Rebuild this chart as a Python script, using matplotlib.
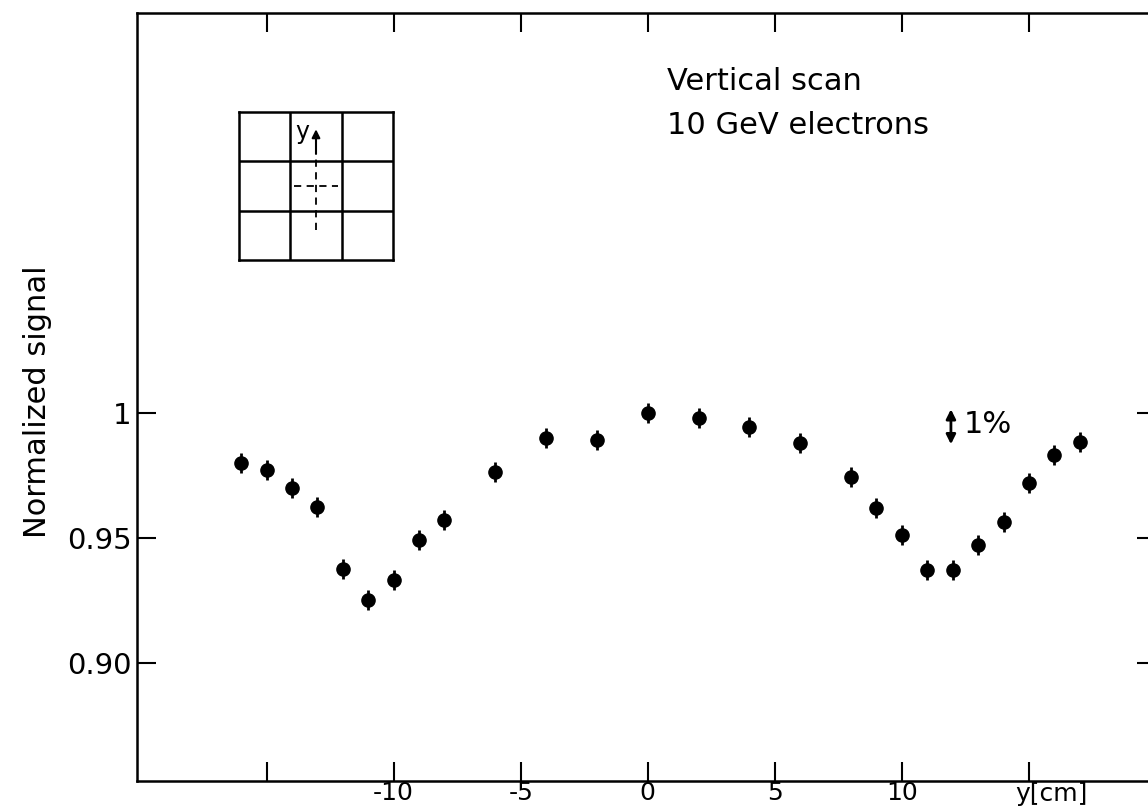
import numpy as np
import matplotlib
matplotlib.use('Agg')
import matplotlib.pyplot as plt

plt.rcParams['font.family'] = ['DejaVu Sans']

# Data
y_pos = [-16, -15, -14, -13, -12, -11, -10, -9, -8, -6, -4, -2, 0,
         2, 4, 6, 8, 9, 10, 11, 12, 13, 14, 15, 16, 17]
signal = [0.980, 0.977, 0.970, 0.9625, 0.9375, 0.925, 0.933, 0.949, 0.957,
          0.9765, 0.990, 0.989, 1.000, 0.998, 0.9945, 0.988, 0.9745, 0.962,
          0.951, 0.937, 0.937, 0.947, 0.9565, 0.972, 0.983, 0.9885]
signal_err = [0.004] * len(y_pos)

x_ticks = [-15, -10, -5, 0, 5, 10, 15]
x_ticklabels = ['', '-10', '-5', '0', '5', '10', '']
y_ticks = [0.90, 0.95, 1.0]
y_ticklabels = ['0.90', '0.95', '1']

W, H = 1148, 810
fig = plt.figure(figsize=(W / 100, H / 100), dpi=100)
ax = fig.add_axes([137 / W, 29 / H, (1156 - 137) / W, (781 - 13) / H])

ax.errorbar(y_pos, signal, yerr=signal_err, fmt='o', color='black',
            markersize=9.5, elinewidth=2, capsize=0)

ax.set_xlim(-20.1, 20.0)
ax.set_ylim(0.8528, 1.16)

ax.set_xticks(x_ticks)
ax.set_xticklabels(x_ticklabels)
ax.set_yticks(y_ticks)
ax.set_yticklabels(y_ticklabels)
ax.tick_params(direction='in', length=14, width=1.5, top=True, right=True,
               pad=4)
ax.tick_params(axis='y', labelsize=21)
ax.tick_params(axis='x', labelsize=18, pad=0)
for side in ['left', 'bottom', 'top']:
    ax.spines[side].set_linewidth(1.8)
ax.spines['right'].set_visible(False)

ax.text(15.9, -0.001, 'y[cm]', transform=ax.get_xaxis_transform(),
        ha='center', va='top', fontsize=18)
fig.text(38 / W, 1 - 402 / H, 'Normalized signal', rotation=90,
         ha='center', va='center', fontsize=22)

ax.text(0.75, 1.1325, 'Vertical scan', fontsize=22, ha='left', va='center')
ax.text(0.75, 1.115, '10 GeV electrons', fontsize=22, ha='left', va='center')

# 1% scale marker
ax.annotate('', xy=(11.93, 0.9875), xytext=(11.93, 1.0015),
            arrowprops=dict(arrowstyle='<|-|>', color='black', lw=2,
                            mutation_scale=14, shrinkA=0, shrinkB=0))
ax.text(12.45, 0.9955, '1%', fontsize=22, ha='left', va='center')

# Inset: 3x3 cell matrix sketch
ins = fig.add_axes([239 / W, 1 - 260 / H, 154 / W, 148 / H])
ins.set_xlim(0, 3)
ins.set_ylim(0, 3)
for k in [1, 2]:
    ins.axvline(k, color='black', lw=1.8)
    ins.axhline(k, color='black', lw=1.8)
for s in ins.spines.values():
    s.set_linewidth(1.8)
ins.set_xticks([])
ins.set_yticks([])
ins.plot([1.5, 1.5], [0.6, 2.1], color='black', lw=1.3, ls=(0, (4, 3)))
ins.plot([1.08, 1.92], [1.5, 1.5], color='black', lw=1.3, ls=(0, (4, 3)))
ins.annotate('', xy=(1.5, 2.65), xytext=(1.5, 2.15),
             arrowprops=dict(arrowstyle='-|>', color='black', lw=1.5,
                             mutation_scale=12, shrinkA=0, shrinkB=0))
ins.text(1.1, 2.6, 'y', fontsize=17, ha='left', va='center')

fig.savefig('out.png', dpi=100)
